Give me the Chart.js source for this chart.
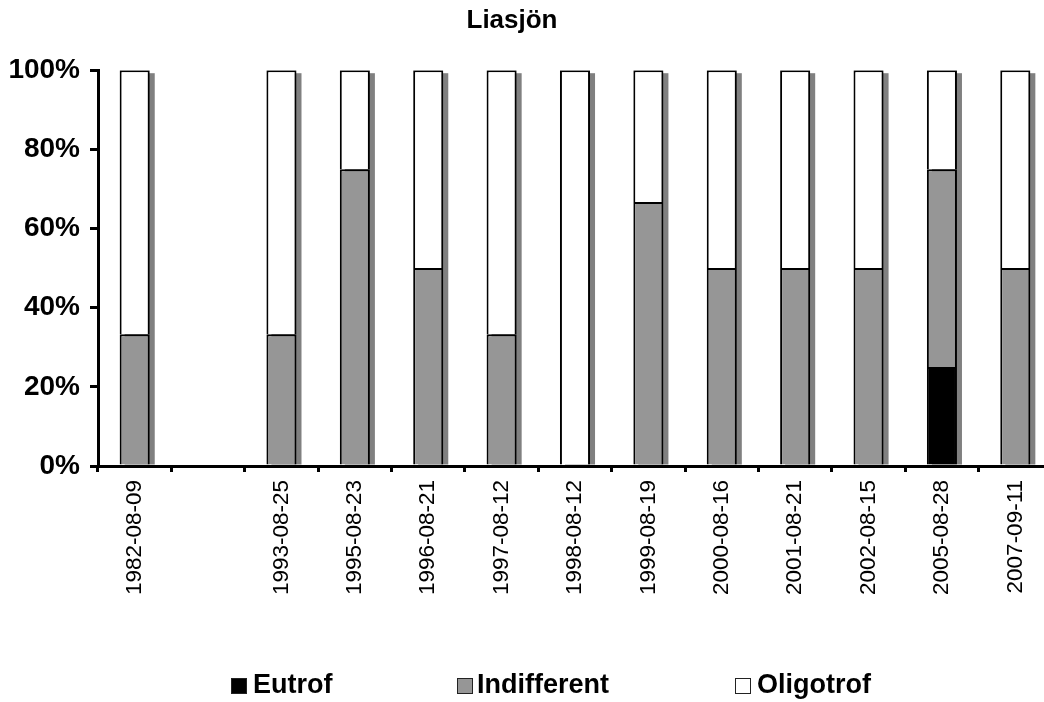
<!DOCTYPE html>
<html>
<head>
<meta charset="utf-8">
<script src="https://cdn.jsdelivr.net/npm/chart.js@4"></script>
<style>
  html, body { margin: 0; padding: 0; background: #fff; overflow: hidden; width: 1044px; height: 702px; }
  #wrap { position: relative; width: 1052px; height: 702px; }
  .leg { position: absolute; top: 669px; font: bold 27px "Liberation Sans", Arial, sans-serif; line-height: 31px; color: #000; white-space: nowrap; }
  .leg i { position: absolute; left: 0; top: 9px; width: 14px; height: 14px; border: 1px solid #222; }
</style>
</head>
<body>
<div id="wrap">
  <canvas id="c"></canvas>
  <div class="leg" style="left:231px"><i style="background:#000"></i><span style="margin-left:22px">Eutrof</span></div>
  <div class="leg" style="left:457px"><i style="background:#969696"></i><span style="margin-left:20px">Indifferent</span></div>
  <div class="leg" style="left:735px"><i style="background:#fff"></i><span style="margin-left:22px">Oligotrof</span></div>
</div>
<script>
// Sampling dates (one empty slot marks the gap between 1982 and 1993)
const dates = ['1982-08-09', '', '1993-08-25', '1995-08-23', '1996-08-21', '1997-08-12', '1998-08-12',
  '1999-08-19', '2000-08-16', '2001-08-21', '2002-08-15', '2005-08-28', '2007-09-11'];

// Share of indicator taxa per trophic class (%)
const eutrof       = [0,     null, 0,     0,  0,  0,     0,   0,     0,  0,  0,  25, 0];
const indifferent  = [33.3,  null, 33.3,  75, 50, 33.3,  0,   66.7,  50, 50, 50, 50, 50];
const oligotrof    = [66.7,  null, 66.7,  25, 50, 66.7,  100, 33.3,  50, 50, 50, 25, 50];

const yTicks = [0, 20, 40, 60, 80, 100];

const FONT = '"Liberation Sans", Arial, sans-serif';

// Grey drop shadow behind each stacked column
const columnShadow = {
  id: 'columnShadow',
  beforeDatasetsDraw(chart) {
    const ctx = chart.ctx;
    const metas = chart.data.datasets.map((d, i) => chart.getDatasetMeta(i));
    ctx.save();
    ctx.fillStyle = '#808080';
    dates.forEach((_, idx) => {
      let top = Infinity, base = null, x = null, w = null;
      metas.forEach((m, di) => {
        const v = chart.data.datasets[di].data[idx];
        const el = m.data[idx];
        if (!el || v == null || v === 0) return;
        top = Math.min(top, el.y);
        base = base === null ? el.base : Math.max(base, el.base);
        x = el.x; w = el.width;
      });
      if (x === null) return;
      ctx.fillRect(x - w / 2 + 5, top + 3, w, base - top - 3);
    });
    ctx.restore();
  }
};

// Centre the title on the visible page width rather than the wider canvas
const titleCentre = {
  id: 'titleCentre',
  afterLayout(chart) {
    if (chart.titleBlock) {
      chart.titleBlock.left = 0;
      chart.titleBlock.right = 1024;
    }
  }
};

new Chart(document.getElementById('c'), {
  type: 'bar',
  data: {
    labels: dates,
    datasets: [
      { label: 'Eutrof', data: eutrof, backgroundColor: '#000000' },
      { label: 'Indifferent', data: indifferent, backgroundColor: '#969696' },
      { label: 'Oligotrof', data: oligotrof, backgroundColor: '#ffffff' }
    ]
  },
  options: {
    responsive: true,
    maintainAspectRatio: false,
    animation: false,
    layout: { padding: 0 },
    datasets: {
      bar: {
        borderColor: '#000',
        borderWidth: 2,
        borderSkipped: 'start',
        categoryPercentage: 1,
        barPercentage: 0.41
      }
    },
    plugins: {
      legend: { display: false },
      tooltip: { enabled: false },
      title: {
        display: true,
        text: 'Liasjön',
        color: '#000',
        font: { family: FONT, size: 26, weight: 'bold' },
        padding: { top: 5, bottom: 34 }
      }
    },
    scales: {
      x: {
        stacked: true,
        grid: { display: true, drawOnChartArea: false, drawTicks: true, tickLength: 6, color: '#000', lineWidth: 3 },
        border: { display: true, color: '#000', width: 3 },
        ticks: {
          autoSkip: false, maxRotation: 90, minRotation: 90, padding: 8,
          color: '#000', font: { family: FONT, size: 22.5 }
        },
        afterFit(scale) { scale.height = 236; }
      },
      y: {
        stacked: true,
        min: 0, max: 100,
        afterBuildTicks(scale) { scale.ticks = yTicks.map(v => ({ value: v })); },
        grid: { display: true, drawOnChartArea: false, drawTicks: true, tickLength: 8, color: '#000', lineWidth: 3 },
        border: { display: true, color: '#000', width: 3 },
        ticks: {
          padding: 10, color: '#000',
          font: { family: FONT, size: 28, weight: 'bold' },
          callback: v => v + '%'
        },
        afterFit(scale) { scale.width = 98; }
      }
    }
  },
  plugins: [columnShadow, titleCentre]
});
</script>
</body>
</html>
